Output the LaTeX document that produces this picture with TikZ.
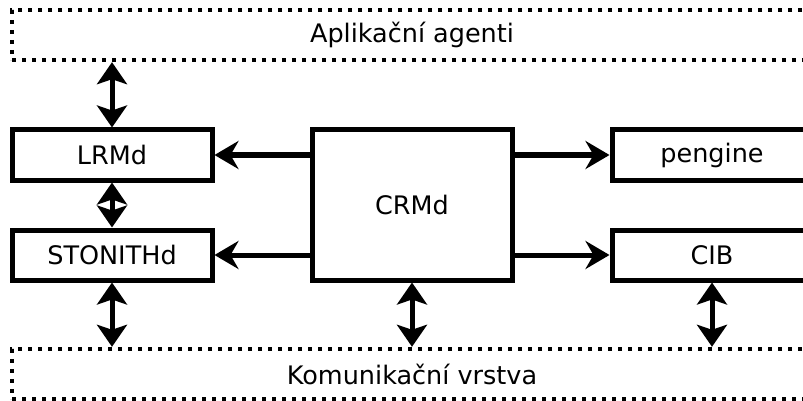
\documentclass[tikz,border=0pt]{standalone}
\usepackage{fontspec}
\setmainfont{DejaVu Sans}
\usetikzlibrary{arrows.meta, positioning}
\tikzset{
  every picture/.style={font=\fontsize{25.5}{30}\selectfont, line width=5pt},
  unit/.style={draw, fill=white, minimum width=200pt, minimum height=50pt, inner sep=0pt},
  layer/.style={draw, line width=4.4pt, dash pattern=on 4.4pt off 5.6pt, minimum width=800pt, minimum height=50pt, inner sep=0pt},
  link/.style={-{Stealth[length=24pt, width=28pt, inset=8pt]}},
  both/.style={{Stealth[length=22pt, width=30pt, inset=5pt]}-{Stealth[length=22pt, width=30pt, inset=5pt]}},
}

\begin{document}
\begin{tikzpicture}[x=1pt, y=-1pt]
  \clip (0, 0) rectangle (803, 401);
  \node[layer] (agents) at (412, 35) {Aplikační agenti};
  \node[layer] (comm) at (412, 374) {Komunikační vrstva};
  \node[unit] (lrmd) at (112, 155) {LRMd};
  \node[unit] (stonith) at (112, 255) {STONITHd};
  \node[unit, minimum height=150pt] (crmd) at (412, 205) {CRMd};
  \node[unit] (pengine) at (712, 155) {pengine};
  \node[unit] (cib) at (712, 255) {CIB};
  % CRMd to the side daemons
  \draw[link] (crmd.west |- lrmd) -- (lrmd.east);
  \draw[link] (crmd.west |- stonith) -- (stonith.east);
  \draw[link] (crmd.east |- pengine) -- (pengine.west);
  \draw[link] (crmd.east |- cib) -- (cib.west);
  % two-way links to the layers
  \draw[both] (agents.south -| lrmd) -- (lrmd.north);
  \draw[both] (lrmd.south) -- (stonith.north);
  \draw[both] (stonith.south) -- (comm.north -| stonith);
  \draw[both] (crmd.south) -- (comm.north);
  \draw[both] (cib.south) -- (comm.north -| cib);
\end{tikzpicture}
\end{document}
